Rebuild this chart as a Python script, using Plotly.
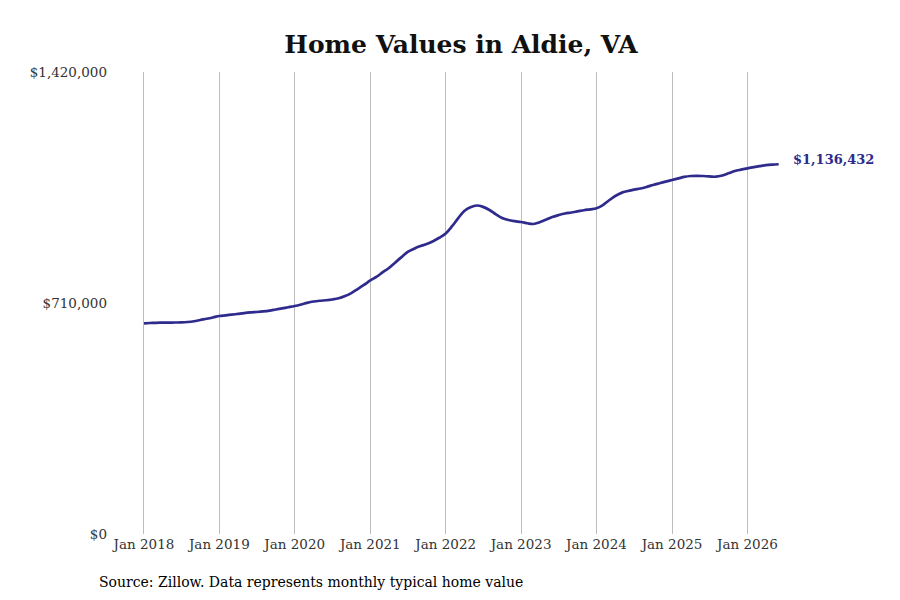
import pandas as pd
import plotly.graph_objects as go

# monthly typical home value, Jan 2018 - Jun 2026
months = pd.date_range("2018-01-01", "2026-06-01", freq="MS")
values = [
    # 2018
    647600, 648500, 649200, 649600, 649800, 650000, 650300, 651500, 654000, 657800, 661500, 665500,
    # 2019
    670000, 672000, 674000, 676500, 679000, 681000, 682300, 684000, 686500, 690000, 693500, 697000,
    # 2020
    700800, 705500, 710500, 714600, 717000, 718500, 720800, 724500, 731500, 740500, 753000, 765500,
    # 2021
    779200, 791000, 804000, 817600, 834000, 851000, 866800, 877000, 885000, 891300, 900000, 910500,
    # 2022
    923600, 946000, 969500, 992800, 1004500, 1009700, 1005500, 995800, 982500, 971300, 965000, 961500,
    # 2023
    959000, 955000, 952800, 958000, 966000, 974300, 980000, 985000, 988200, 991500, 995000, 998000,
    # 2024
    1001100, 1011000, 1025000, 1038900, 1048500, 1054200, 1058500, 1061900, 1067000, 1072700, 1078000, 1083000,
    # 2025
    1088100, 1093000, 1097500, 1100300, 1101000, 1100300, 1099000, 1098200, 1101900, 1108500, 1115700, 1120000,
    # 2026
    1124000, 1127500, 1130500, 1133600, 1135300, 1136432,
]

y_ticks = [0, 710000, 1420000]
y_labels = ["$0", "$710,000", "$1,420,000"]
x_ticks = pd.date_range("2018-01-01", "2026-01-01", freq="YS")
x_labels = [f"Jan {d.year}" for d in x_ticks]

line_color = "#2e2b8c"
font = "DejaVu Serif"

# page body has an 8px margin, so the figure is 884x584
W, H = 884, 584
L, R, T, B = 100, 102, 64, 58

fig = go.Figure()
fig.add_trace(go.Scatter(x=months, y=values, mode="lines",
                         line=dict(color=line_color, width=2.7, shape="spline"),
                         hoverinfo="skip", showlegend=False))

# end-of-line value label
fig.add_annotation(x=months[-1], y=values[-1], text=f"<b>${values[-1]:,}</b>",
                   xanchor="left", yanchor="middle", xshift=12, yshift=5, showarrow=False,
                   font=dict(family=font, size=13, color=line_color))

fig.add_annotation(x=(89 - L) / (W - L - R), y=(H - B - 574) / (H - T - B),
                   xref="paper", yref="paper",
                   text="Source: Zillow. Data represents monthly typical home value",
                   xanchor="left", yanchor="middle", showarrow=False,
                   font=dict(family=font, size=14, color="#000"))

fig.update_xaxes(range=["2017-07-11", "2026-07-26"], tickvals=x_ticks, ticktext=x_labels,
                 showgrid=True, gridcolor="#bdbdbd", gridwidth=1, zeroline=False,
                 showline=False, ticks="", tickfont=dict(family=font, size=13.5, color="#333"))
fig.update_yaxes(range=[0, 1420000], tickvals=y_ticks, ticktext=y_labels,
                 showgrid=False, zeroline=False, showline=False, ticks="",
                 tickfont=dict(family=font, size=13.5, color="#333"))

fig.update_layout(
    width=W, height=H,
    margin=dict(l=L, r=R, t=T, b=B),
    plot_bgcolor="white", paper_bgcolor="white",
    title=dict(text="<b>Home Values in Aldie, VA</b>", x=453 / W, xanchor="center",
               y=1 - 36 / H, yanchor="middle",
               font=dict(family=font, size=25, color="#111")),
)

fig.write_html("out.html")
